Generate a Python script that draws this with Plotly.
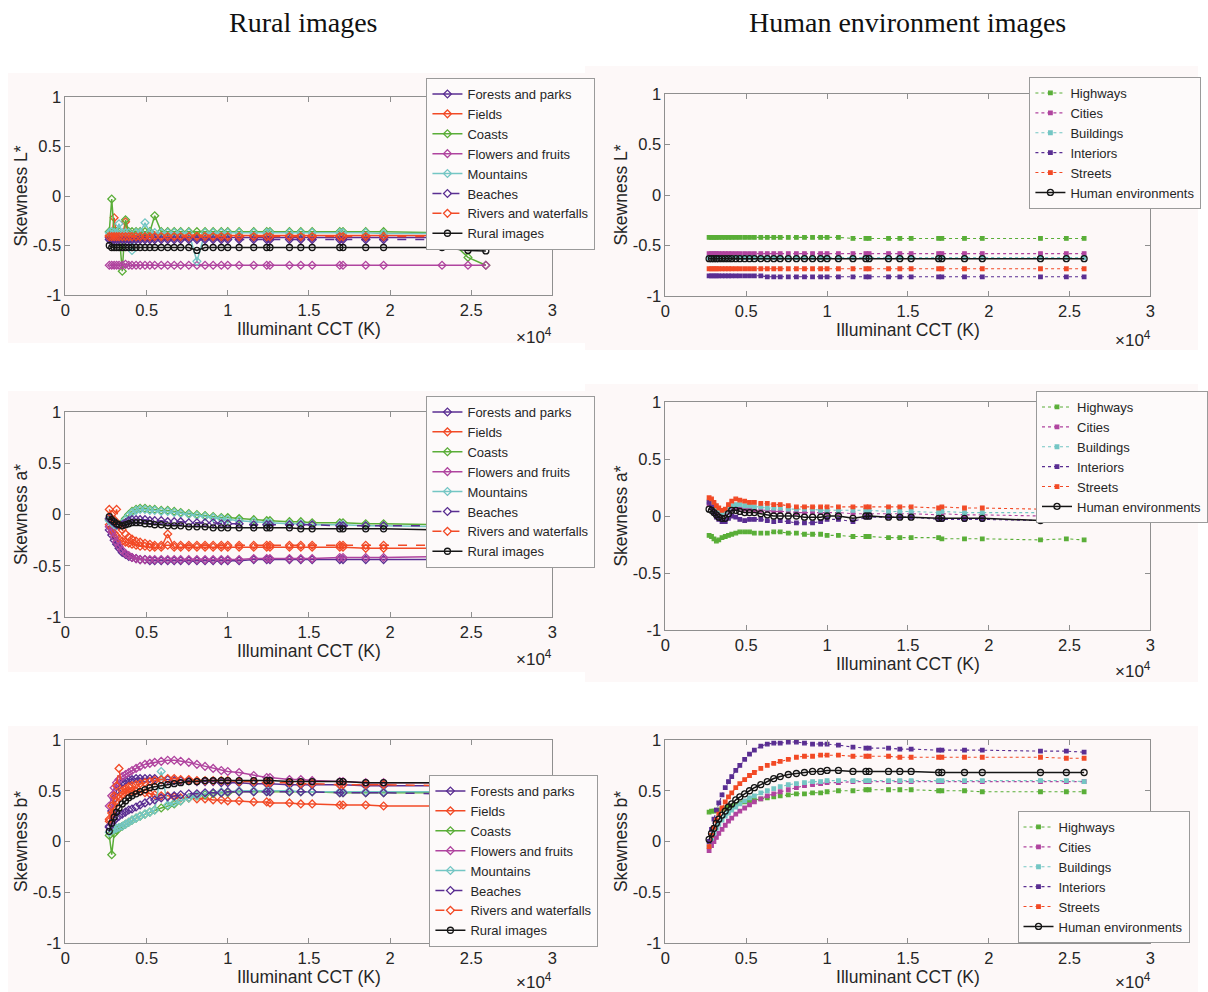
import plotly.graph_objects as go

# ---------------- data ----------------
cct = [2700, 2850, 3000, 3150, 3300, 3500, 3700, 3900, 4100, 4350,
       4600, 4900, 5200, 5500, 5900, 6300, 6700, 7100, 7600, 8100,
       8600, 9100, 9600, 10000, 10700, 11600, 12400, 12600, 13800, 14500,
       15200, 16900, 17100, 18500, 19600, 23200, 24800, 25900]

x_tickvals = [0, 5000, 10000, 15000, 20000, 25000, 30000]
x_ticktext = ["0", "0.5", "1", "1.5", "2", "2.5", "3"]
y_tickvals = [-1, -0.5, 0, 0.5, 1]
y_ticktext = ["-1", "-0.5", "0", "0.5", "1"]

rural_names = ["Forests and parks", "Fields", "Coasts", "Flowers and fruits",
               "Mountains", "Beaches", "Rivers and waterfalls", "Rural images"]
human_names = ["Highways", "Cities", "Buildings", "Interiors", "Streets",
               "Human environments"]

# --- Skewness L*, rural ---
forests_L = [-0.42, -0.42, -0.43, -0.42, -0.42, -0.42, -0.42, -0.43, -0.42, -0.42,
             -0.42, -0.42, -0.42, -0.42, -0.42, -0.42, -0.42, -0.42, -0.42, -0.42,
             -0.42, -0.42, -0.42, -0.42, -0.42, -0.42, -0.42, -0.42, -0.42, -0.42,
             -0.42, -0.42, -0.42, -0.42, -0.42, -0.42, -0.42, -0.42]
fields_L = [-0.40, -0.41, -0.22, -0.40, -0.41, -0.40, -0.26, -0.40, -0.41, -0.40,
            -0.40, -0.40, -0.41, -0.40, -0.40, -0.40, -0.40, -0.40, -0.40, -0.40,
            -0.40, -0.40, -0.40, -0.40, -0.40, -0.40, -0.40, -0.40, -0.40, -0.40,
            -0.40, -0.40, -0.40, -0.40, -0.40, -0.40, -0.40, -0.40]
coasts_L = [-0.36, -0.03, -0.36, -0.36, -0.36, -0.76, -0.24, -0.36, -0.36, -0.36,
            -0.36, -0.36, -0.36, -0.20, -0.36, -0.36, -0.36, -0.36, -0.36, -0.36,
            -0.36, -0.36, -0.36, -0.36, -0.36, -0.36, -0.36, -0.36, -0.36, -0.36,
            -0.36, -0.36, -0.36, -0.36, -0.36, -0.37, -0.62, -0.70]
flowers_L = [-0.70, -0.70, -0.70, -0.70, -0.70, -0.70, -0.69, -0.70, -0.70, -0.70,
             -0.70, -0.70, -0.70, -0.70, -0.70, -0.70, -0.70, -0.70, -0.70, -0.70,
             -0.70, -0.70, -0.70, -0.70, -0.70, -0.70, -0.70, -0.70, -0.70, -0.70,
             -0.70, -0.70, -0.70, -0.70, -0.70, -0.70, -0.70, -0.70]
mountains_L = [-0.37, -0.36, -0.37, -0.37, -0.28, -0.37, -0.37, -0.37, -0.55, -0.37,
               -0.37, -0.27, -0.37, -0.37, -0.37, -0.37, -0.37, -0.37, -0.37, -0.66,
               -0.37, -0.37, -0.37, -0.37, -0.37, -0.37, -0.37, -0.37, -0.37, -0.37,
               -0.37, -0.37, -0.37, -0.37, -0.38, -0.38, -0.38, -0.38]
beaches_L = [-0.44, -0.44, -0.44, -0.44, -0.44, -0.44, -0.44, -0.44, -0.44, -0.44,
             -0.44, -0.44, -0.44, -0.44, -0.44, -0.44, -0.44, -0.44, -0.44, -0.44,
             -0.44, -0.44, -0.44, -0.44, -0.44, -0.44, -0.44, -0.44, -0.44, -0.44,
             -0.44, -0.44, -0.44, -0.44, -0.44, -0.44, -0.44, -0.44]
rivers_L = [-0.41, -0.41, -0.41, -0.41, -0.41, -0.41, -0.41, -0.41, -0.41, -0.41,
            -0.41, -0.41, -0.41, -0.41, -0.41, -0.41, -0.41, -0.41, -0.41, -0.41,
            -0.41, -0.41, -0.41, -0.41, -0.41, -0.41, -0.41, -0.41, -0.41, -0.41,
            -0.41, -0.41, -0.41, -0.41, -0.41, -0.41, -0.41, -0.41]
rural_L = [-0.50, -0.52, -0.52, -0.52, -0.52, -0.52, -0.52, -0.52, -0.52, -0.52,
           -0.52, -0.52, -0.52, -0.52, -0.52, -0.52, -0.52, -0.52, -0.52, -0.55,
           -0.52, -0.52, -0.52, -0.52, -0.52, -0.52, -0.52, -0.52, -0.52, -0.52,
           -0.52, -0.52, -0.52, -0.52, -0.52, -0.52, -0.55, -0.555]

# --- Skewness L*, human ---
highways_L = [-0.42, -0.42, -0.42, -0.42, -0.42, -0.42, -0.42, -0.42, -0.42, -0.42,
              -0.42, -0.42, -0.42, -0.42, -0.42, -0.42, -0.42, -0.42, -0.42, -0.42,
              -0.42, -0.42, -0.42, -0.42, -0.42, -0.43, -0.43, -0.43, -0.43, -0.43,
              -0.43, -0.43, -0.43, -0.43, -0.43, -0.43, -0.43, -0.43]
cities_L = [-0.58, -0.58, -0.58, -0.58, -0.58, -0.58, -0.58, -0.58, -0.58, -0.58,
            -0.58, -0.58, -0.58, -0.58, -0.58, -0.58, -0.58, -0.58, -0.58, -0.58,
            -0.58, -0.58, -0.58, -0.58, -0.58, -0.58, -0.58, -0.58, -0.58, -0.58,
            -0.58, -0.58, -0.58, -0.58, -0.58, -0.58, -0.58, -0.58]
buildings_L = [-0.62, -0.62, -0.62, -0.62, -0.62, -0.62, -0.62, -0.62, -0.62, -0.62,
               -0.62, -0.62, -0.62, -0.62, -0.62, -0.62, -0.62, -0.62, -0.62, -0.62,
               -0.62, -0.62, -0.62, -0.62, -0.62, -0.62, -0.62, -0.62, -0.62, -0.62,
               -0.62, -0.62, -0.62, -0.62, -0.62, -0.62, -0.62, -0.62]
interiors_L = [-0.80, -0.80, -0.80, -0.80, -0.80, -0.80, -0.80, -0.80, -0.80, -0.80,
               -0.80, -0.80, -0.80, -0.80, -0.80, -0.81, -0.81, -0.81, -0.81, -0.81,
               -0.81, -0.81, -0.81, -0.81, -0.81, -0.81, -0.81, -0.81, -0.81, -0.81,
               -0.81, -0.81, -0.81, -0.81, -0.81, -0.81, -0.81, -0.81]
streets_L = [-0.73, -0.73, -0.73, -0.73, -0.73, -0.73, -0.73, -0.73, -0.73, -0.73,
             -0.73, -0.73, -0.73, -0.73, -0.73, -0.73, -0.73, -0.73, -0.73, -0.73,
             -0.73, -0.73, -0.73, -0.73, -0.73, -0.73, -0.73, -0.73, -0.73, -0.73,
             -0.73, -0.73, -0.73, -0.73, -0.73, -0.73, -0.73, -0.73]
human_L = [-0.63, -0.63, -0.63, -0.63, -0.63, -0.63, -0.63, -0.63, -0.63, -0.63,
           -0.63, -0.63, -0.63, -0.63, -0.63, -0.63, -0.63, -0.63, -0.63, -0.63,
           -0.63, -0.63, -0.63, -0.63, -0.63, -0.63, -0.63, -0.63, -0.63, -0.63,
           -0.63, -0.63, -0.63, -0.63, -0.63, -0.63, -0.63, -0.63]

# --- Skewness a*, rural ---
forests_a = [-0.15, -0.20, -0.25, -0.29, -0.33, -0.37, -0.39, -0.41, -0.42, -0.43,
             -0.44, -0.44, -0.45, -0.45, -0.45, -0.45, -0.45, -0.45, -0.45, -0.45,
             -0.45, -0.45, -0.45, -0.45, -0.45, -0.44, -0.44, -0.44, -0.44, -0.44,
             -0.44, -0.44, -0.44, -0.44, -0.44, -0.44, -0.43, -0.43]
fields_a = [-0.10, -0.14, -0.18, -0.21, -0.24, -0.26, -0.27, -0.28, -0.29, -0.30,
            -0.31, -0.31, -0.32, -0.32, -0.32, -0.19, -0.32, -0.32, -0.32, -0.32,
            -0.32, -0.32, -0.32, -0.32, -0.32, -0.32, -0.32, -0.32, -0.32, -0.32,
            -0.32, -0.32, -0.32, -0.33, -0.33, -0.33, -0.33, -0.33]
coasts_a = [-0.05, -0.07, -0.09, -0.10, -0.10, -0.08, -0.04, 0.00, 0.03, 0.05,
            0.06, 0.06, 0.05, 0.05, 0.04, 0.04, 0.03, 0.02, 0.01, 0.00,
            -0.01, -0.02, -0.03, -0.03, -0.04, -0.05, -0.06, -0.06, -0.07, -0.07,
            -0.08, -0.08, -0.08, -0.09, -0.09, -0.10, -0.10, -0.10]
flowers_a = [-0.12, -0.17, -0.22, -0.27, -0.31, -0.35, -0.38, -0.40, -0.42, -0.43,
             -0.44, -0.44, -0.44, -0.44, -0.44, -0.44, -0.44, -0.44, -0.44, -0.44,
             -0.44, -0.44, -0.44, -0.44, -0.44, -0.43, -0.43, -0.43, -0.43, -0.43,
             -0.43, -0.42, -0.42, -0.42, -0.42, -0.41, -0.41, -0.41]
mountains_a = [-0.06, -0.08, -0.10, -0.11, -0.11, -0.09, -0.05, -0.01, 0.02, 0.04,
               0.05, 0.05, 0.04, 0.04, 0.03, 0.03, 0.02, 0.01, 0.00, -0.01,
               -0.02, -0.03, -0.04, -0.05, -0.06, -0.07, -0.08, -0.08, -0.09, -0.09,
               -0.10, -0.10, -0.10, -0.11, -0.11, -0.12, -0.12, -0.12]
beaches_a = [-0.04, -0.06, -0.08, -0.10, -0.11, -0.10, -0.08, -0.06, -0.05, -0.05,
             -0.05, -0.05, -0.06, -0.06, -0.06, -0.07, -0.07, -0.07, -0.08, -0.08,
             -0.08, -0.08, -0.09, -0.09, -0.09, -0.10, -0.10, -0.10, -0.10, -0.10,
             -0.10, -0.11, -0.11, -0.11, -0.11, -0.11, -0.11, -0.12]
rivers_a = [0.05, 0.00, -0.05, 0.05, -0.10, -0.15, -0.19, -0.22, -0.24, -0.26,
            -0.27, -0.28, -0.29, -0.30, -0.30, -0.30, -0.30, -0.30, -0.30, -0.30,
            -0.30, -0.30, -0.30, -0.30, -0.30, -0.30, -0.30, -0.30, -0.30, -0.30,
            -0.30, -0.30, -0.30, -0.30, -0.30, -0.30, -0.30, -0.30]
rural_a = [-0.02, -0.05, -0.07, -0.09, -0.10, -0.11, -0.10, -0.09, -0.08, -0.08,
           -0.08, -0.09, -0.09, -0.10, -0.10, -0.11, -0.11, -0.11, -0.12, -0.12,
           -0.12, -0.13, -0.13, -0.13, -0.13, -0.13, -0.13, -0.13, -0.13, -0.14,
           -0.14, -0.14, -0.14, -0.14, -0.14, -0.15, -0.15, -0.15]

# --- Skewness a*, human ---
highways_a = [-0.17, -0.18, -0.20, -0.22, -0.21, -0.19, -0.18, -0.17, -0.16, -0.15,
              -0.14, -0.14, -0.14, -0.15, -0.15, -0.15, -0.14, -0.14, -0.15, -0.15,
              -0.16, -0.16, -0.16, -0.17, -0.17, -0.18, -0.18, -0.18, -0.19, -0.19,
              -0.19, -0.19, -0.20, -0.20, -0.20, -0.21, -0.20, -0.21]
cities_a = [0.10, 0.09, 0.07, 0.05, 0.03, 0.01, 0.02, 0.05, 0.06, 0.07,
            0.07, 0.06, 0.06, 0.05, 0.05, 0.05, 0.04, 0.04, 0.04, 0.03,
            0.03, 0.03, 0.03, 0.03, 0.03, 0.02, 0.02, 0.02, 0.02, 0.02,
            0.02, 0.01, 0.02, 0.01, 0.01, 0.00, 0.00, 0.01]
buildings_a = [0.13, 0.12, 0.10, 0.07, 0.05, 0.03, 0.04, 0.07, 0.09, 0.10,
               0.10, 0.09, 0.09, 0.08, 0.08, 0.07, 0.07, 0.07, 0.06, 0.06,
               0.06, 0.06, 0.05, 0.05, 0.05, 0.05, 0.05, 0.05, 0.04, 0.04,
               0.04, 0.03, 0.04, 0.03, 0.03, 0.03, 0.03, 0.05]
interiors_a = [0.12, 0.08, 0.03, -0.01, -0.03, -0.05, -0.05, -0.02, 0.00, -0.01,
               -0.03, -0.04, -0.03, -0.03, -0.03, -0.04, -0.05, -0.04, -0.05, -0.06,
               -0.06, -0.06, -0.05, -0.03, -0.03, -0.05, -0.01, -0.01, -0.01, -0.01,
               -0.01, -0.03, -0.03, -0.03, -0.03, -0.04, -0.03, -0.02]
streets_a = [0.16, 0.15, 0.12, 0.09, 0.07, 0.05, 0.06, 0.10, 0.13, 0.15,
             0.14, 0.13, 0.12, 0.12, 0.11, 0.11, 0.10, 0.10, 0.09, 0.08,
             0.08, 0.08, 0.08, 0.08, 0.08, 0.08, 0.08, 0.08, 0.08, 0.08,
             0.08, 0.07, 0.08, 0.07, 0.07, 0.06, 0.065, 0.085]
human_a = [0.06, 0.05, 0.03, 0.01, -0.01, -0.02, -0.02, 0.02, 0.05, 0.05,
           0.04, 0.03, 0.03, 0.03, 0.02, 0.01, 0.00, 0.00, 0.00, 0.00,
           -0.01, -0.01, -0.01, 0.00, 0.00, -0.02, 0.00, 0.00, -0.01, -0.01,
           -0.01, -0.02, -0.02, -0.02, -0.02, -0.04, -0.03, -0.02]

# --- Skewness b*, rural ---
forests_b = [0.15, 0.30, 0.42, 0.50, 0.55, 0.58, 0.60, 0.61, 0.61, 0.62,
             0.62, 0.62, 0.62, 0.62, 0.61, 0.61, 0.60, 0.60, 0.60, 0.59,
             0.59, 0.59, 0.58, 0.58, 0.58, 0.57, 0.57, 0.57, 0.56, 0.56,
             0.56, 0.56, 0.56, 0.55, 0.55, 0.55, 0.55, 0.55]
fields_b = [0.20, 0.28, 0.35, 0.40, 0.43, 0.46, 0.48, 0.49, 0.50, 0.50,
            0.49, 0.48, 0.47, 0.46, 0.45, 0.45, 0.44, 0.43, 0.43, 0.42,
            0.42, 0.41, 0.41, 0.40, 0.40, 0.39, 0.39, 0.38, 0.38, 0.37,
            0.37, 0.36, 0.36, 0.36, 0.35, 0.35, 0.35, 0.35]
coasts_b = [0.06, -0.13, 0.08, 0.11, 0.13, 0.15, 0.17, 0.19, 0.21, 0.23,
            0.25, 0.27, 0.29, 0.31, 0.33, 0.35, 0.37, 0.40, 0.43, 0.45,
            0.46, 0.47, 0.48, 0.48, 0.49, 0.49, 0.49, 0.49, 0.49, 0.49,
            0.49, 0.48, 0.48, 0.48, 0.48, 0.48, 0.47, 0.47]
flowers_b = [0.35, 0.45, 0.53, 0.58, 0.61, 0.64, 0.66, 0.68, 0.70, 0.72,
             0.74, 0.76, 0.77, 0.78, 0.79, 0.80, 0.80, 0.79, 0.78, 0.76,
             0.74, 0.72, 0.70, 0.69, 0.68, 0.65, 0.63, 0.63, 0.61, 0.61,
             0.60, 0.59, 0.59, 0.58, 0.58, 0.58, 0.58, 0.58]
mountains_b = [0.09, 0.11, 0.12, 0.13, 0.14, 0.15, 0.17, 0.19, 0.21, 0.23,
               0.25, 0.27, 0.29, 0.31, 0.69, 0.36, 0.38, 0.40, 0.43, 0.45,
               0.47, 0.48, 0.49, 0.49, 0.50, 0.50, 0.50, 0.50, 0.50, 0.49,
               0.49, 0.49, 0.49, 0.49, 0.49, 0.49, 0.48, 0.48]
beaches_b = [0.14, 0.18, 0.21, 0.23, 0.25, 0.27, 0.29, 0.31, 0.32, 0.34,
             0.36, 0.38, 0.40, 0.41, 0.43, 0.44, 0.45, 0.46, 0.47, 0.47,
             0.48, 0.48, 0.48, 0.49, 0.49, 0.49, 0.49, 0.49, 0.49, 0.49,
             0.49, 0.48, 0.48, 0.48, 0.48, 0.47, 0.47, 0.47]
rivers_b = [0.22, 0.35, 0.45, 0.55, 0.72, 0.50, 0.52, 0.54, 0.55, 0.56,
            0.57, 0.58, 0.59, 0.60, 0.61, 0.62, 0.62, 0.61, 0.61, 0.60,
            0.60, 0.60, 0.60, 0.60, 0.59, 0.59, 0.58, 0.58, 0.58, 0.57,
            0.57, 0.56, 0.56, 0.56, 0.56, 0.55, 0.55, 0.55]
rural_b = [0.10, 0.18, 0.24, 0.29, 0.33, 0.37, 0.40, 0.43, 0.45, 0.47,
           0.49, 0.51, 0.53, 0.54, 0.55, 0.56, 0.57, 0.58, 0.59, 0.59,
           0.60, 0.60, 0.60, 0.60, 0.60, 0.60, 0.60, 0.60, 0.59, 0.59,
           0.59, 0.59, 0.59, 0.58, 0.58, 0.58, 0.58, 0.58]

# --- Skewness b*, human ---
highways_b = [0.29, 0.30, 0.30, 0.31, 0.31, 0.32, 0.33, 0.34, 0.35, 0.36,
              0.38, 0.39, 0.40, 0.41, 0.42, 0.43, 0.44, 0.45, 0.46, 0.47,
              0.47, 0.48, 0.48, 0.49, 0.50, 0.50, 0.51, 0.51, 0.51, 0.51,
              0.51, 0.50, 0.50, 0.50, 0.49, 0.49, 0.49, 0.49]
cities_b = [-0.09, -0.04, 0.00, 0.04, 0.08, 0.12, 0.16, 0.20, 0.23, 0.27,
            0.30, 0.33, 0.36, 0.39, 0.42, 0.45, 0.47, 0.49, 0.51, 0.53,
            0.55, 0.56, 0.57, 0.58, 0.58, 0.59, 0.59, 0.59, 0.59, 0.59,
            0.59, 0.59, 0.59, 0.59, 0.59, 0.59, 0.59, 0.59]
buildings_b = [-0.05, 0.03, 0.08, 0.13, 0.17, 0.21, 0.25, 0.28, 0.31, 0.34,
               0.37, 0.40, 0.43, 0.45, 0.48, 0.50, 0.52, 0.54, 0.56, 0.57,
               0.58, 0.59, 0.59, 0.60, 0.60, 0.60, 0.60, 0.60, 0.60, 0.60,
               0.60, 0.60, 0.60, 0.60, 0.60, 0.60, 0.60, 0.59]
interiors_b = [0.00, 0.12, 0.22, 0.31, 0.38, 0.46, 0.53, 0.59, 0.64, 0.70,
               0.75, 0.81, 0.86, 0.90, 0.94, 0.96, 0.97, 0.97, 0.98, 0.98,
               0.97, 0.96, 0.96, 0.96, 0.95, 0.93, 0.92, 0.92, 0.92, 0.91,
               0.91, 0.90, 0.90, 0.90, 0.90, 0.89, 0.89, 0.88]
streets_b = [-0.05, 0.06, 0.14, 0.21, 0.27, 0.33, 0.39, 0.44, 0.48, 0.53,
             0.57, 0.61, 0.65, 0.68, 0.72, 0.75, 0.77, 0.79, 0.81, 0.83,
             0.84, 0.84, 0.85, 0.85, 0.85, 0.84, 0.84, 0.84, 0.84, 0.83,
             0.83, 0.83, 0.83, 0.83, 0.83, 0.83, 0.82, 0.82]
human_b = [0.02, 0.08, 0.13, 0.18, 0.22, 0.26, 0.30, 0.34, 0.37, 0.41,
           0.44, 0.47, 0.50, 0.53, 0.56, 0.59, 0.62, 0.64, 0.66, 0.67,
           0.68, 0.69, 0.69, 0.70, 0.70, 0.69, 0.69, 0.69, 0.69, 0.69,
           0.69, 0.68, 0.68, 0.68, 0.68, 0.68, 0.68, 0.68]

rural_series_L = [forests_L, fields_L, coasts_L, flowers_L, mountains_L, beaches_L, rivers_L, rural_L]
rural_series_a = [forests_a, fields_a, coasts_a, flowers_a, mountains_a, beaches_a, rivers_a, rural_a]
rural_series_b = [forests_b, fields_b, coasts_b, flowers_b, mountains_b, beaches_b, rivers_b, rural_b]
human_series_L = [highways_L, cities_L, buildings_L, interiors_L, streets_L, human_L]
human_series_a = [highways_a, cities_a, buildings_a, interiors_a, streets_a, human_a]
human_series_b = [highways_b, cities_b, buildings_b, interiors_b, streets_b, human_b]

# ---------------- styles ----------------
PURPLE = "#5a2e92"
RED = "#f24a26"
GREEN = "#5aae38"
MAGENTA = "#b0449f"
TEAL = "#74c6c4"
BLACK = "#151515"

rural_styles = [
    dict(color=PURPLE, dash="solid", symbol="diamond-open"),
    dict(color=RED, dash="solid", symbol="diamond-open"),
    dict(color=GREEN, dash="solid", symbol="diamond-open"),
    dict(color=MAGENTA, dash="solid", symbol="diamond-open"),
    dict(color=TEAL, dash="solid", symbol="diamond-open"),
    dict(color=PURPLE, dash="dash", symbol="diamond-open"),
    dict(color=RED, dash="dash", symbol="diamond-open"),
    dict(color=BLACK, dash="solid", symbol="circle-open"),
]
human_styles = [
    dict(color=GREEN, dash="dot", symbol="square"),
    dict(color=MAGENTA, dash="dot", symbol="square"),
    dict(color=TEAL, dash="dot", symbol="square"),
    dict(color=PURPLE, dash="dot", symbol="square"),
    dict(color=RED, dash="dot", symbol="square"),
    dict(color=BLACK, dash="solid", symbol="circle-open"),
]

W, H = 1208, 992
def px(x):
    return x / W
def py(y):
    return 1 - y / H

# panel geometry (pixels): (x0, x1, ytop, ybottom); legend=(x, y, yanchor)
panels = [
    dict(ax=(66, 557, 97, 295), ylab="Skewness L*", names=rural_names,
         series=rural_series_L, styles=rural_styles, legend=(430, 78, "top"), bg=(8, 590, 73, 343), xmul=(538, 336)),
    dict(ax=(671, 1160, 94, 296), ylab="Skewness L*", names=human_names,
         series=human_series_L, styles=human_styles, legend=(1038, 77, "top"), bg=(590, 1208, 66, 350), xmul=(1142, 339)),
    dict(ax=(66, 557, 412, 617), ylab="Skewness a*", names=rural_names,
         series=rural_series_a, styles=rural_styles, legend=(430, 396, "top"), bg=(8, 590, 391, 672), xmul=(538, 658)),
    dict(ax=(671, 1160, 402, 630), ylab="Skewness a*", names=human_names,
         series=human_series_a, styles=human_styles, legend=(1045, 391, "top"), bg=(590, 1208, 384, 682), xmul=(1142, 670)),
    dict(ax=(66, 557, 740, 943), ylab="Skewness b*", names=rural_names,
         series=rural_series_b, styles=rural_styles, legend=(433, 947, "bottom"), bg=(8, 590, 726, 992), xmul=(538, 981)),
    dict(ax=(671, 1160, 740, 943), ylab="Skewness b*", names=human_names,
         series=human_series_b, styles=human_styles, legend=(1026, 943, "bottom"), bg=(590, 1208, 726, 992), xmul=(1142, 981)),
]

FONT = "Liberation Sans, Arial, sans-serif"
AXC = "#8f8f8f"
TXT = "#262626"
PINK = "#fdf8f8"

fig = go.Figure()
shapes = []
annotations = []
layout = dict(
    width=W, height=H, margin=dict(l=0, r=0, t=0, b=0),
    paper_bgcolor="white", plot_bgcolor=PINK,
    font=dict(family=FONT, size=16, color=TXT),
)

for i, p in enumerate(panels):
    k = "" if i == 0 else str(i + 1)
    xa, ya = "x" + k, "y" + k
    leg = "legend" + k
    x0, x1, yt, yb = p["ax"]
    for name, ys, st in zip(p["names"], p["series"], p["styles"]):
        is_rural = st["symbol"] == "diamond-open"
        is_mean = st["symbol"] == "circle-open"
        fig.add_trace(go.Scatter(
            x=cct, y=ys, name=name, mode="lines+markers",
            xaxis=xa, yaxis=ya, legend=leg,
            line=dict(color=st["color"], dash=st["dash"],
                      width=1.5 if (is_rural or is_mean) else 1.1),
            marker=dict(symbol=st["symbol"], color=st["color"],
                        size=6 if is_mean else (6 if is_rural else 3.5),
                        line=dict(width=1.3, color=st["color"])),
        ))
    common = dict(showline=True, linecolor=AXC, linewidth=1, mirror="ticks",
                  ticks="inside", ticklen=5, tickcolor=AXC, showgrid=False,
                  zeroline=False, automargin=False,
                  tickfont=dict(family=FONT, size=16.5, color=TXT))
    layout["xaxis" + k] = dict(
        common, domain=[px(x0), px(x1)], range=[0, 30000],
        tickvals=x_tickvals, ticktext=x_ticktext, anchor=ya,
        title=dict(text="Illuminant CCT (K)", standoff=2,
                   font=dict(family=FONT, size=17.5, color=TXT)))
    layout["yaxis" + k] = dict(
        common, domain=[py(yb), py(yt)], range=[-1, 1],
        tickvals=y_tickvals, ticktext=y_ticktext, anchor=xa,
        title=dict(text=p["ylab"], standoff=0,
                   font=dict(family=FONT, size=17.5, color=TXT)))
    lx, ly, lanchor = p["legend"]
    layout[leg] = dict(
        x=px(lx), y=py(ly), xanchor="left", yanchor=lanchor,
        bgcolor="rgba(253,250,250,1)", bordercolor="#9a9a9a", borderwidth=1,
        font=dict(family=FONT, size=13, color=TXT),
        itemwidth=30, tracegroupgap=0, itemclick=False,
    )
    bx0, bx1, by0, by1 = p["bg"]
    shapes.append(dict(type="rect", xref="paper", yref="paper", layer="below",
                       x0=px(bx0), x1=px(bx1), y0=py(by1), y1=py(by0),
                       fillcolor=PINK, line=dict(width=0)))
    mx, my = p["xmul"]
    annotations.append(dict(xref="paper", yref="paper", x=px(mx), y=py(my),
                            text="×10<sup>4</sup>", showarrow=False,
                            xanchor="center", yanchor="middle",
                            font=dict(family=FONT, size=17, color=TXT)))

SERIF = "Liberation Serif, Times New Roman, serif"
annotations.append(dict(xref="paper", yref="paper", x=px(306), y=py(22),
                        text="Rural images", showarrow=False,
                        xanchor="center", yanchor="middle",
                        font=dict(family=SERIF, size=28, color="#111")))
annotations.append(dict(xref="paper", yref="paper", x=px(915), y=py(22),
                        text="Human environment images", showarrow=False,
                        xanchor="center", yanchor="middle",
                        font=dict(family=SERIF, size=28, color="#111")))

layout["shapes"] = shapes
layout["annotations"] = annotations
fig.update_layout(**layout)
fig.write_html("out.html")
